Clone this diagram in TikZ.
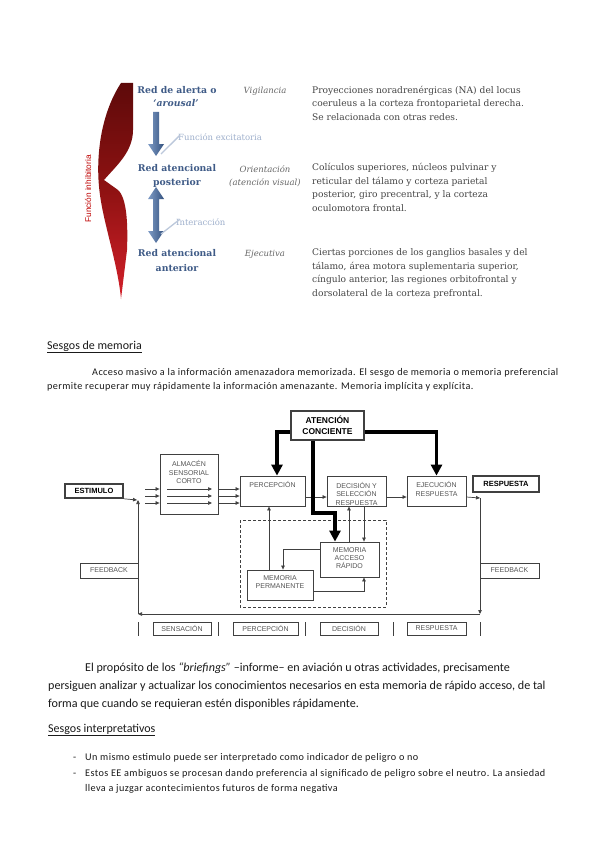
\documentclass[tikz,border=0pt]{standalone}
\usepackage{fontspec}
\setmainfont{Carlito}
\newfontfamily\geo{DejaVu Serif}
\newfontfamily\ari{Liberation Sans}
\newfontfamily\carls[LetterSpace=4.0]{Carlito}
\usetikzlibrary{arrows.meta}
\definecolor{labblue}{HTML}{3F5B87}
\definecolor{graylab}{HTML}{666666}
\definecolor{paratxt}{HTML}{444444}
\definecolor{lightb}{HTML}{9FB0CC}
\definecolor{crD}{HTML}{5E0A0A}
\definecolor{crM}{HTML}{8F1212}
\definecolor{crB}{HTML}{D4202A}
\definecolor{blL}{HTML}{7F9CC6}
\definecolor{blD}{HTML}{34527F}
\definecolor{boxc}{HTML}{404040}
\definecolor{btxt}{HTML}{555555}
\definecolor{bodyc}{HTML}{1A1A1A}
\begin{document}
\begin{tikzpicture}[x=1pt,y=-1pt,
  lab/.style={font=\geo\bfseries\fontsize{9.3}{11}\selectfont, text=labblue, inner sep=0pt, anchor=base},
  ital/.style={font=\geo\itshape\fontsize{8.5}{10}\selectfont, text=graylab, inner sep=0pt, anchor=base},
  para/.style={font=\geo\fontsize{9.1}{11}\selectfont, text=paratxt, inner sep=0pt, anchor=base west},
  conn/.style={font=\geo\fontsize{8.5}{10}\selectfont, text=lightb, inner sep=0pt, anchor=base west},
  lightline/.style={draw=lightb!70, line width=1.3pt},
  body/.style={font=\fontsize{12.1}{14}\selectfont, text=bodyc, inner sep=0pt, anchor=base west},
  bodys/.style={font=\carls\fontsize{10.2}{12}\selectfont, text=bodyc, inner sep=0pt, anchor=base west},
  bx/.style={draw=boxc, line width=0.8pt, fill=white, inner sep=0pt},
  bxb/.style={draw=boxc, line width=1.6pt, fill=white, inner sep=0pt, font=\ari\bfseries\fontsize{7.5}{9}\selectfont, text=black},
  btx/.style={font=\ari\fontsize{7}{8.2}\selectfont, text=btxt, align=center, inner sep=0pt},
  arr/.style={draw=boxc, line width=0.7pt, -{Triangle[length=4pt,width=3.5pt]}},
  thk/.style={draw=black, line width=3.6pt, -{Triangle[length=11pt,width=11pt]}},
  bar/.style={draw=boxc, line width=0.9pt}
]
\fill[white] (0,0) rectangle (599,848);
\useasboundingbox (0,0) rectangle (599,848);

% ---------- top figure ----------
\shade[top color=crD, bottom color=crB, middle color=crM]
 (121,83) -- (133,83) -- (133,130)
 .. controls (133,152) and (116,166) .. (104,180)
 -- (118,190)
 .. controls (127,198) and (128,225) .. (127,250)
 -- (121,299)
 .. controls (118,265) and (104,225) .. (100,195)
 .. controls (95,160) and (100,115) .. (121,83) -- cycle;
\node[font=\ari\fontsize{8.3}{9}\selectfont, text=red!75!black, rotate=90, inner sep=0pt] (inhib) at (88,189) {Función inhibitoria};

\shade[left color=blL, right color=blD]
 (153,112) -- (159,112) -- (159,144) -- (164,144) -- (156,156) -- (148,144) -- (153,144) -- cycle;
\shade[left color=blL, right color=blD]
 (156,187) -- (164,199) -- (159,199) -- (159,231) -- (164,231) -- (156,243) -- (148,231) -- (153,231) -- (153,199) -- (148,199) -- cycle;

\node[lab] (al1) at (177,93.5) {Red de alerta o};
\node[lab] (al2) at (176,106.5) {\itshape ‘arousal’};
\node[lab] (po1) at (177,171.5) {Red atencional};
\node[lab] (po2) at (177,185) {posterior};
\node[lab] (an1) at (177,256.5) {Red atencional};
\node[lab] (an2) at (177,271) {anterior};

\node[ital] (vig) at (265,94) {Vigilancia};
\node[ital] (ori1) at (265,172) {Orientación};
\node[ital] (ori2) at (265,185) {(atención visual)};
\node[ital] (eje) at (265,256.5) {Ejecutiva};

\node[conn] (fexc) at (178,140.5) {Función excitatoria};
\node[conn] (inter) at (176,225.5) {Interacción};
\coordinate (fe0) at (161,154);
\coordinate (in0) at (161,234);
\draw[lightline] (fe0) -- ([xshift=2pt,yshift=2pt]fexc.west);
\draw[lightline] (in0) -- ([xshift=4pt,yshift=3pt]inter.west);

\node[para] (r11) at (312,93.5) {Proyecciones noradrenérgicas (NA) del locus};
\node[para] (r12) at (312,107) {coeruleus a la corteza frontoparietal derecha.};
\node[para] (r13) at (312,120.5) {Se relacionada con otras redes.};
\node[para] (r21) at (312,170.5) {Colículos superiores, núcleos pulvinar y};
\node[para] (r22) at (312,184) {reticular del tálamo y corteza parietal};
\node[para] (r23) at (312,197.5) {posterior, giro precentral, y la corteza};
\node[para] (r24) at (312,211) {oculomotora frontal.};
\node[para] (r31) at (312,255.5) {Ciertas porciones de los ganglios basales y del};
\node[para] (r32) at (312,269) {tálamo, área motora suplementaria superior,};
\node[para] (r33) at (312,282.5) {cíngulo anterior, las regiones orbitofrontal y};
\node[para] (r34) at (312,296) {dorsolateral de la corteza prefrontal.};

% ---------- text ----------
\node[body, font=\fontsize{12}{14}\selectfont] (t1) at (47,349) {\underline{Sesgos de memoria}};
\node[bodys] (t2) at (92,375) {Acceso masivo a la información amenazadora memorizada. El sesgo de memoria o memoria preferencial};
\node[bodys] (t3) at (47,389) {permite recuperar muy rápidamente la información amenazante. Memoria implícita y explícita.};

% ---------- flowchart ----------
\draw[boxc, line width=0.9pt, dash pattern=on 3pt off 2pt] (240,520) rectangle (386,607);

\node[bxb, minimum width=58pt, minimum height=14pt] (estim) at (94,491) {ESTIMULO};
\node[bx, minimum width=58pt, minimum height=60pt,
  label={[btx, anchor=north, yshift=-7pt]north:{ALMACÉN\\SENSORIAL\\CORTO}}] (alm) at (189,484) {};
\node[bx, minimum width=65pt, minimum height=30pt,
  label={[btx, anchor=north, yshift=-6pt]north:{PERCEPCIÓN}}] (perc) at (272.5,491) {};
\node[bx, minimum width=59pt, minimum height=30pt] (dec) at (356.5,491) {};
\begin{scope}
\clip (327,476) rectangle (386,504.5);
\node[btx, anchor=north] (dect) at (356.5,482.5) {DECISIÓN Y\\SELECCIÓN\\RESPUESTA};
\end{scope}
\node[bx, minimum width=59pt, minimum height=30pt,
  label={[btx, anchor=north, yshift=-6pt]north:{EJECUCIÓN\\RESPUESTA}}] (ejec) at (436.5,491) {};
\node[bxb, minimum width=66pt, minimum height=16pt] (resp) at (506,484) {RESPUESTA};
\node[bxb, minimum width=73pt, minimum height=29pt, align=center, font=\ari\bfseries\fontsize{8.5}{11}\selectfont] (aten) at (327.5,425.5) {ATENCIÓN\\CONCIENTE};
\node[bx, minimum width=59pt, minimum height=35pt,
  label={[btx, anchor=north, yshift=-5.5pt]north:{MEMORIA\\ACCESO\\RÁPIDO}}] (macc) at (349.5,559.5) {};
\node[bx, minimum width=66pt, minimum height=30pt,
  label={[btx, anchor=north, yshift=-5.5pt]north:{MEMORIA\\PERMANENTE}}] (mperm) at (280,585) {};
\node[bx, minimum width=58pt, minimum height=15pt, btx] (fbl) at (109,570.5) {FEEDBACK};
\node[bx, minimum width=59pt, minimum height=15pt, btx] (fbr) at (509.5,570.5) {FEEDBACK};
\node[bx, minimum width=58pt, minimum height=13pt, btx] (sens) at (182,628.5) {SENSACIÓN};
\node[bx, minimum width=65pt, minimum height=13pt, btx] (perc2) at (265.5,628.5) {PERCEPCIÓN};
\node[bx, minimum width=58pt, minimum height=13pt, btx] (dec2) at (349,628.5) {DECISIÓN};
\node[bx, minimum width=59pt, minimum height=13pt, btx] (resp2) at (436.5,628.5) {RESPUESTA};

% bars
\foreach \xx/\nm in {138/b1,218/b2,305/b3,393/b4,480/b5}{
  \coordinate (\nm t) at (\xx,622); \coordinate (\nm b) at (\xx,636);
  \draw[bar] (\nm t) -- (\nm b);
}

% inputs
\coordinate (s1) at (145,489);
\coordinate (s2) at (145,496);
\coordinate (s3) at (145,503);
\coordinate (i1) at (167,489);
\coordinate (i2) at (167,496);
\coordinate (i3) at (167,503);
\coordinate (e1) at (212,489);
\coordinate (e2) at (212,496);
\coordinate (e3) at (212,503);
\foreach \k in {1,2,3}{
  \draw[arr] (s\k) -- (s\k -| alm.west);
  \draw[arr] (i\k) -- (e\k);
  \draw[arr] (s\k -| alm.east) -- (s\k -| perc.west);
}
\coordinate (mid) at (0,497);
\draw[arr] (mid -| perc.east) -- (mid -| dec.west);
\draw[arr] (mid -| dec.east) -- (mid -| ejec.west);
\coordinate (jr) at (480,498);
\coordinate (br) at (480,614);
\coordinate (bl) at (138,614);
\coordinate (jl) at (138,500);
\draw[arr] (mid -| ejec.east) -- (jr);
\draw[arr] (jr) -- (br);
\draw[arr] (br) -- (bl);
\draw[arr] (bl) -- (jl);
\draw[arr] (estim.south east) -- ([xshift=-1pt]jl);

% thick arrows
\draw[thk] ([yshift=-6.5pt]aten.west) -| ([xshift=4.5pt]perc.north);
\draw[thk] ([yshift=-6.5pt]aten.east) -| (ejec.north);
\draw[thk] ([xshift=-14.5pt]aten.south) -- ++(0,72) -| ([xshift=-14.5pt]macc.north);

% memory arrows
\draw[arr] ([xshift=-0.5pt]macc.north) -- ([xshift=-7.5pt]dec.south);
\draw[arr] ([xshift=7.5pt]dec.south) -- ([xshift=14.5pt]macc.north);
\draw[arr] ([yshift=10.5pt]macc.west) -| ([xshift=3pt]mperm.north);
\draw[arr] ([xshift=-11pt]mperm.north) -- ([xshift=-11pt]mperm.north |- perc.south);
\draw[arr] ([yshift=-6pt]mperm.east) -| ([xshift=14.5pt]macc.south);

% ---------- bottom text ----------
\node[body] (u1) at (85,671) {El propósito de los \textit{“briefings”} –informe– en aviación u otras actividades, precisamente};
\node[body] (u2) at (48,689) {persiguen analizar y actualizar los conocimientos necesarios en esta memoria de rápido acceso, de tal};
\node[body] (u3) at (48,707) {forma que cuando se requieran estén disponibles rápidamente.};
\node[body, font=\fontsize{12}{14}\selectfont] (u4) at (48,732) {\underline{Sesgos interpretativos}};
\node[bodys] (d1) at (73,760) {-};
\node[bodys] (v1) at (85,760) {Un mismo estimulo puede ser interpretado como indicador de peligro o no};
\node[bodys] (d2) at (73,776) {-};
\node[bodys] (v2) at (85,776) {Estos EE ambiguos se procesan dando preferencia al significado de peligro sobre el neutro. La ansiedad};
\node[bodys] (v3) at (85,791) {lleva a juzgar acontecimientos futuros de forma negativa};
\end{tikzpicture}
\end{document}
